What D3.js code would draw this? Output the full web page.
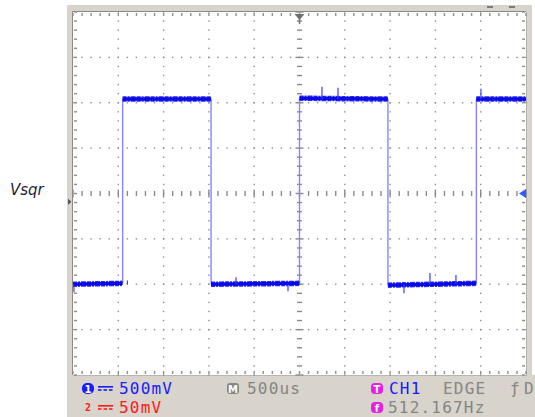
<!DOCTYPE html>
<html><head><meta charset="utf-8">
<script src="https://cdn.jsdelivr.net/npm/d3@7"></script>
<style>html,body{margin:0;padding:0;background:#fff;overflow:hidden}</style>
</head><body>
<script>
// ---- data ----
// time in microseconds (500 us/div, trigger at centre), voltage in volts (500 mV/div)
const traceT = [-2500, -1952, -1952, -976, -976, 0, 0, 976, 976, 1952, 1952, 2500];
const traceV = [-1.00, -0.99, 1.04, 1.04, -1.00, -0.99, 1.05, 1.04, -1.01, -0.99, 1.04, 1.04];
const spikeT = [248, 425, 2003, 1440, 1727, 1153, -2490, -127, -701, -1900];
const spikeV = [1.175, 1.165, 1.153, -0.877, -0.899, -1.098, -1.087, -1.076, -0.922, -0.96];
const xDomain = [-2500, 2500];
const yDomain = [-2, 2];
const channelLabel = "Vsqr";
const ch1Scale = "500mV", ch2Scale = "50mV", timeScale = "500us";
const trigSource = "CH1", trigType = "EDGE", freqText = "512.167Hz";

const W = 535, H = 417;
const svg = d3.select("body").append("svg").attr("width", W).attr("height", H);

const L = 73, R = 526, T = 12, B = 375;
const x = d3.scaleLinear().domain(xDomain).range([L, R]);
const y = d3.scaleLinear().domain(yDomain).range([B, T]);

// frame
const frameCol = "#d8d3cb";
svg.append("rect").attr("x", 67).attr("y", 5).attr("width", 465).attr("height", 412).attr("fill", frameCol);
svg.append("rect").attr("x", 67).attr("y", 375).attr("width", 468).attr("height", 42).attr("fill", frameCol);
svg.append("rect").attr("x", L).attr("y", T).attr("width", R - L).attr("height", B - T).attr("fill", "#fff");
svg.append("path").attr("d", `M${L-0.5},${B}V${T-0.5}H${R}`).attr("stroke", "#8f8a84").attr("fill", "none");
svg.append("path").attr("d", `M${R+0.5},${T}V${B+0.5}H${L}`).attr("stroke", "#b9b4ad").attr("fill", "none");

// top right dashes in frame
[[487, 493], [509, 515]].forEach(d => svg.append("rect").attr("x", d[0]).attr("y", 6).attr("width", d[1] - d[0]).attr("height", 2).attr("fill", "#7a7a7a"));

const g = svg.append("g");
const dotCol = "#8e8e8e";
const minorT = d3.range(-2500, 2501, 100);
const minorV = d3.range(-2, 2.001, 0.1);
const majorT = d3.range(-2000, 2001, 500);
const majorV = d3.range(-1.5, 1.501, 0.5);

// dotted major grid
majorT.filter(t => t !== 0).forEach(t => {
  minorV.forEach(v => g.append("rect").attr("x", x(t) - 0.7).attr("y", y(v) - 0.7).attr("width", 1.4).attr("height", 1.4).attr("fill", dotCol));
});
majorV.filter(v => Math.abs(v) > 1e-9).forEach(v => {
  minorT.forEach(t => g.append("rect").attr("x", x(t) - 0.7).attr("y", y(v) - 0.7).attr("width", 1.4).attr("height", 1.4).attr("fill", dotCol));
});
// centre axes with ticks
minorT.forEach((t, i) => {
  const big = (Math.round(t) % 500 === 0);
  const h = big ? 8 : 5;
  g.append("rect").attr("x", x(t) - 0.7).attr("y", y(0) - h / 2).attr("width", 1.4).attr("height", h).attr("fill", "#8a8a8a");
});
minorV.forEach(v => {
  const big = Math.abs(Math.round(v * 10) % 5) === 0;
  const w = big ? 8 : 5;
  g.append("rect").attr("x", x(0) - w / 2).attr("y", y(v) - 0.7).attr("width", w).attr("height", 1.4).attr("fill", "#8a8a8a");
});
// border ticks
minorT.forEach(t => {
  g.append("rect").attr("x", x(t) - 0.7).attr("y", T + 1).attr("width", 1.4).attr("height", 3).attr("fill", dotCol);
  g.append("rect").attr("x", x(t) - 0.7).attr("y", B - 4).attr("width", 1.4).attr("height", 3).attr("fill", dotCol);
});
minorV.forEach(v => {
  g.append("rect").attr("x", L + 1).attr("y", y(v) - 0.7).attr("width", 3).attr("height", 1.4).attr("fill", dotCol);
  g.append("rect").attr("x", R - 4).attr("y", y(v) - 0.7).attr("width", 3).attr("height", 1.4).attr("fill", dotCol);
});

// trace
const pts = traceT.map((t, i) => [t, traceV[i]]);
// vertical edges (thin, light)
for (let i = 1; i < pts.length; i++) {
  if (pts[i][0] === pts[i - 1][0]) {
    svg.append("line").attr("x1", x(pts[i][0])).attr("x2", x(pts[i][0]))
      .attr("y1", y(pts[i - 1][1])).attr("y2", y(pts[i][1]))
      .attr("stroke", "#8585ff").attr("stroke-width", 1.4);
  }
}
// flat levels (thick, noisy band)
for (let i = 1; i < pts.length; i++) {
  if (pts[i][0] !== pts[i - 1][0]) {
    svg.append("line").attr("x1", x(pts[i - 1][0])).attr("x2", x(pts[i][0]))
      .attr("y1", y(pts[i - 1][1])).attr("y2", y(pts[i][1]))
      .attr("stroke", "#2a2aff").attr("stroke-width", 5.5).attr("stroke-dasharray", "4,1,2,1,5,1");
    svg.append("line").attr("x1", x(pts[i - 1][0])).attr("x2", x(pts[i][0]))
      .attr("y1", y(pts[i - 1][1])).attr("y2", y(pts[i][1]))
      .attr("stroke", "#0a0ae6").attr("stroke-width", 3.5);
  }
}
// spikes
spikeT.forEach((t, i) => {
  const base = spikeV[i] > 0 ? 1.04 : -1.0;
  svg.append("line").attr("x1", x(t)).attr("x2", x(t)).attr("y1", y(base)).attr("y2", y(spikeV[i]))
    .attr("stroke", "#3a3aff").attr("stroke-width", 1.2);
});

// markers
svg.append("path").attr("d", `M${x(0)-5},${T+2}L${x(0)+5},${T+2}L${x(0)},${T+8}Z`).attr("fill", "#6e6e6e");
svg.append("rect").attr("x", x(0) - 0.7).attr("y", T + 2).attr("width", 1.4).attr("height", 10).attr("fill", "#6e6e6e");
svg.append("path").attr("d", `M${R-7},${y(0)}L${R},${y(0)-4.5}L${R},${y(0)+4.5}Z`).attr("fill", "#2a5cff");
svg.append("path").attr("d", `M68,${y(-0.09)-3}L71.5,${y(-0.09)}L68,${y(-0.09)+3}Z`).attr("fill", "#555");

// channel label
svg.append("text").attr("x", 10).attr("y", 195).text(channelLabel)
  .attr("font-family", "DejaVu Sans").attr("font-style", "italic").attr("font-size", 15).attr("fill", "#1e1e3c");

// bottom status text
const mono = "DejaVu Sans Mono";
function txt(s, xx, yy, col, size, ls) {
  return svg.append("text").attr("x", xx).attr("y", yy).text(s).attr("font-family", mono)
    .attr("font-size", size || 16).attr("letter-spacing", ls === undefined ? 1.2 : ls).attr("fill", col);
}
function icon(xx, yy, col, ch, r) {
  svg.append("rect").attr("x", xx).attr("y", yy).attr("width", 12).attr("height", 11).attr("rx", r).attr("fill", col);
  svg.append("text").attr("x", xx + 6).attr("y", yy + 9.5).attr("text-anchor", "middle").text(ch)
    .attr("font-family", "DejaVu Sans").attr("font-weight", "bold").attr("font-size", 10).attr("fill", "#fff");
}
function dcSym(xx, yy, col) {
  svg.append("rect").attr("x", xx).attr("y", yy).attr("width", 15).attr("height", 1.6).attr("fill", col);
  [0, 5.5, 11].forEach(o => svg.append("rect").attr("x", xx + o).attr("y", yy + 3.2).attr("width", 3.5).attr("height", 1.6).attr("fill", col));
}
const blue = "#1a1aff", red = "#ff1a1a", gray = "#858585", mag = "#e61ee6";
icon(82, 383, blue, "1", 5);
dcSym(98, 386, blue);
txt(ch1Scale, 119, 394, blue);
txt("2", 85, 411, red, 10, 0).attr("font-weight", "bold");
dcSym(98, 405, red);
txt(ch2Scale, 119, 413, red);
icon(227, 383, gray, "M", 3);
txt(timeScale, 247, 394, gray);
icon(371, 383, mag, "T", 4);
txt(trigSource, 389, 394, blue);
txt(trigType, 443, 394, gray);
txt("ƒ", 510, 394, gray);
txt("D", 524, 394, gray, 16, 0);
icon(371, 402, mag, "f", 4);
txt(freqText, 388, 413, gray);
</script>
</body></html>
